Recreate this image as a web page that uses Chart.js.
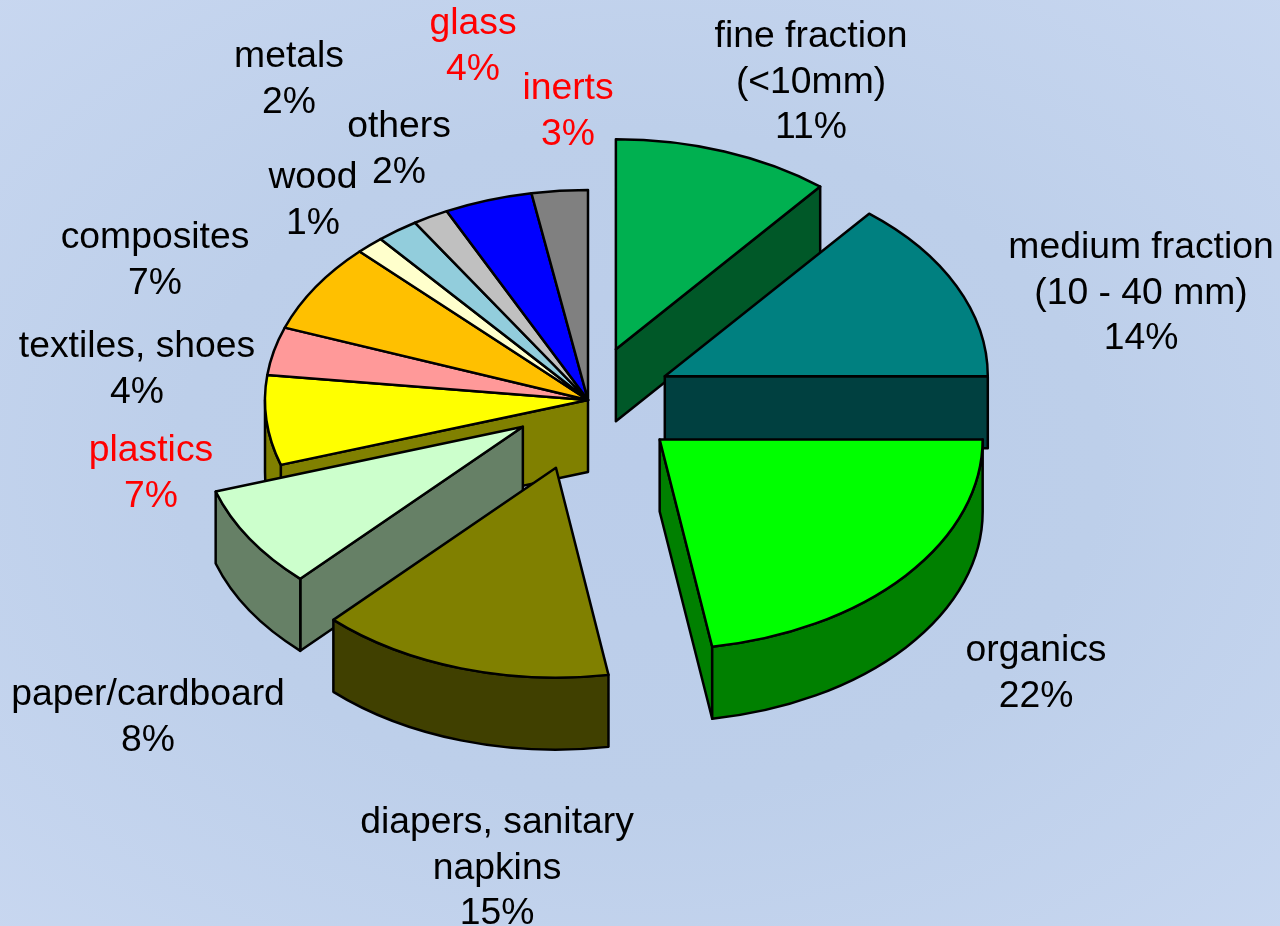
<!DOCTYPE html>
<html>
<head>
<meta charset="utf-8">
<title>Waste composition</title>
<script src="https://cdn.jsdelivr.net/npm/chart.js@4"></script>
<style>
  html, body { margin: 0; padding: 0; width: 1280px; height: 926px; overflow: hidden; }
  body { background: radial-gradient(ellipse 72% 72% at 50% 50%, #bbcdea 0%, #bdcfea 50%, #c8d7f0 100%); }
  canvas { display: block; }
</style>
</head>
<body>
<canvas id="pie" width="1280" height="926"></canvas>
<script>
// Chart data
const categories = [
  ['fine fraction', '(<10mm)'],
  ['medium fraction', '(10 - 40 mm)'],
  ['organics'],
  ['diapers, sanitary', 'napkins'],
  ['paper/cardboard'],
  ['plastics'],
  ['textiles, shoes'],
  ['composites'],
  ['wood'],
  ['others'],
  ['metals'],
  ['glass'],
  ['inerts']
];
const shares = [10.9, 14.1, 22.4, 14.7, 7.9, 6.9, 3.7, 6.9, 1.4, 2.1, 1.8, 4.4, 2.8];
const sliceColors = [
  '#00b050', '#008080', '#00ff00', '#808000', '#ccffcc', '#ffff00', '#ff9999',
  '#ffc000', '#ffffcc', '#92cddc', '#c0c0c0', '#0000ff', '#808080'
];
const redLabels = ['plastics', 'glass', 'inerts'];

// How far each slice is pulled out, px before squashing
const explode = [83, 85, 94, 109, 77, 0, 0, 0, 0, 0, 0, 0, 0];
// label anchor: centre x, first baseline
const labelSpots = [
  [811, 47], [1141, 258], [1036, 661], [497, 833], [148, 705], [151, 461], [137, 357],
  [155, 248], [313, 188], [399, 137], [289, 67], [473, 34], [568, 99]
];

const SQUASH = 0.65;
const DEPTH = 72;

function darker(hex) {
  const n = parseInt(hex.slice(1), 16);
  const half = (v) => Math.round(v / 2);
  return `rgb(${half(n >> 16)},${half((n >> 8) & 255)},${half(n & 255)})`;
}

function paint(ctx, fill) {
  ctx.fillStyle = fill;
  ctx.fill();
  ctx.stroke();
}

// One slice: cut faces and rim first, then the top
function drawSlice(ctx, arcs, i) {
  const arc = arcs[i];
  const { startAngle: a0, endAngle: a1, outerRadius: r } = arc;
  const mid = (a0 + a1) / 2;
  const cx = arc.x + Math.cos(mid) * arc.options.offset;
  const cy = arc.y + Math.sin(mid) * arc.options.offset * SQUASH;
  const rimY = r * SQUASH;
  const side = darker(arc.options.backgroundColor);
  const tip = (a) => [cx + Math.cos(a) * r, cy + Math.sin(a) * rimY];

  const face = (a) => {
    const [px, py] = tip(a);
    ctx.beginPath();
    ctx.moveTo(cx, cy);
    ctx.lineTo(px, py);
    ctx.lineTo(px, py + DEPTH);
    ctx.lineTo(cx, cy + DEPTH);
    ctx.closePath();
    paint(ctx, side);
  };
  // a cut face stays hidden while the neighbour is not pulled away from it
  const prev = arcs[(i - 1 + arcs.length) % arcs.length];
  const next = arcs[(i + 1) % arcs.length];
  if (Math.cos(a0) < -1e-6 && prev.options.offset !== arc.options.offset) face(a0);
  if (Math.cos(a1) > 1e-6 && next.options.offset !== arc.options.offset) face(a1);

  // rim only where the arc faces the viewer
  const from = Math.max(a0, 0);
  const to = Math.min(a1, Math.PI);
  if (from < to) {
    ctx.beginPath();
    ctx.ellipse(cx, cy, r, rimY, 0, from, to);
    ctx.ellipse(cx, cy + DEPTH, r, rimY, 0, to, from, true);
    ctx.closePath();
    paint(ctx, side);
  }

  ctx.beginPath();
  ctx.moveTo(cx, cy);
  ctx.ellipse(cx, cy, r, rimY, 0, a0, a1);
  ctx.closePath();
  paint(ctx, arc.options.backgroundColor);
}

const tiltedPie = {
  id: 'tiltedPie',
  beforeDatasetDraw(chart, args) {
    const ctx = chart.ctx;
    const arcs = args.meta.data;
    ctx.save();
    ctx.lineWidth = 2.5;
    ctx.lineJoin = 'round';
    ctx.strokeStyle = '#000';
    // back to front: slices whose apex sits higher go first
    const apexY = (arc) => Math.sin((arc.startAngle + arc.endAngle) / 2) * arc.options.offset;
    arcs.map((arc, i) => ({ arc, i }))
      .sort((p, q) => apexY(p.arc) - apexY(q.arc) || p.i - q.i)
      .forEach((p) => drawSlice(ctx, arcs, p.i));
    ctx.restore();
    return false;
  },
  afterDraw(chart) {
    const ctx = chart.ctx;
    ctx.save();
    ctx.font = '37.3px "Liberation Sans", Arial, sans-serif';
    ctx.textAlign = 'center';
    ctx.textBaseline = 'alphabetic';
    categories.forEach((lines, i) => {
      const [x, y] = labelSpots[i];
      ctx.fillStyle = redLabels.includes(lines[0]) ? '#ff0000' : '#000000';
      lines.concat(`${Math.round(shares[i])}%`).forEach((text, k) => {
        ctx.fillText(text, x, y + k * 45.5);
      });
    });
    ctx.restore();
  }
};

new Chart(document.getElementById('pie'), {
  type: 'pie',
  data: {
    labels: categories.map((lines) => lines.join(' ')),
    datasets: [{
      data: shares,
      backgroundColor: sliceColors,
      offset: explode,
      borderWidth: 0
    }]
  },
  options: {
    responsive: false,
    animation: false,
    radius: 323,
    layout: { padding: { right: 104, bottom: 126 } },
    plugins: { legend: { display: false }, tooltip: { enabled: false } }
  },
  plugins: [tiltedPie]
});
</script>
</body>
</html>
